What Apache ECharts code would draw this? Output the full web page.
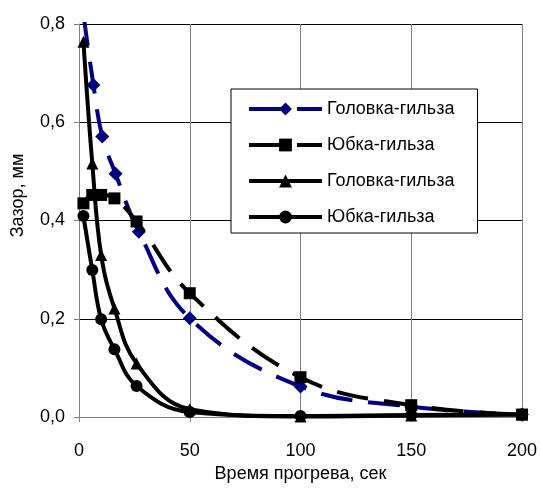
<!DOCTYPE html>
<html>
<head>
<meta charset="utf-8">
<script src="https://cdn.jsdelivr.net/npm/echarts@6/dist/echarts.min.js"></script>
<style>
  html, body { margin: 0; padding: 0; background: #fff; }
  #chart { width: 541px; height: 488px; }
</style>
</head>
<body>
<div id="chart"></div>
<script>
// Time points, sec
const timeHead = [2, 6.5, 10.5, 16.5, 27, 50, 100, 150, 200];
const timeBlack = [2, 6, 10, 16, 26, 50, 100, 150, 200];

// Gap values, mm
const headDashed = [0.82, 0.676, 0.571, 0.495, 0.377, 0.201, 0.062, 0.021, 0.005];
const skirtDashed = [0.435, 0.452, 0.452, 0.445, 0.398, 0.252, 0.081, 0.024, 0.005];
const headSolid = [0.764, 0.516, 0.33, 0.221, 0.109, 0.016, 0.001, 0.003, 0.005];
const skirtSolid = [0.409, 0.299, 0.199, 0.138, 0.063, 0.01, 0.002, 0.004, 0.005];

const seriesNames = ["Головка-гильза", "Юбка-гильза", "Головка-гильза ", "Юбка-гильза "];

function pairs(xs, ys) {
  return xs.map((x, i) => [x, ys[i]]);
}

const chartDom = document.getElementById("chart");
const myChart = echarts.init(chartDom);

const font = "Liberation Sans";

const option = {
  animation: false,
  textStyle: { fontFamily: font },
  grid: { left: 79, right: 19, top: 24, bottom: 71 },
  legend: {
    orient: "vertical",
    left: 231,
    top: 89,
    padding: [11, 23, 7, 16],
    itemGap: 18,
    itemWidth: 73,
    itemHeight: 16,
    borderColor: "#000",
    borderWidth: 1,
    backgroundColor: "#fff",
    lineStyle: { width: 4 },
    textStyle: { fontSize: 18, color: "#000", fontFamily: font },
    formatter: (name) => name.trim(),
    data: seriesNames,
  },
  xAxis: {
    type: "value",
    min: 0,
    max: 200,
    interval: 50,
    name: "Время прогрева, сек",
    nameLocation: "middle",
    nameGap: 47,
    nameTextStyle: { fontSize: 18, color: "#000", fontFamily: font },
    axisLine: { lineStyle: { color: "#808080", width: 1 } },
    axisTick: { show: true, length: 5, lineStyle: { color: "#808080" } },
    axisLabel: { fontSize: 18, color: "#000", margin: 25 },
    splitLine: { show: true, lineStyle: { color: "#808080", width: 1 } },
  },
  yAxis: {
    type: "value",
    min: 0,
    max: 0.8,
    interval: 0.2,
    name: "Зазор, мм",
    nameLocation: "middle",
    nameGap: 52,
    nameTextStyle: { fontSize: 18, color: "#000", fontFamily: font, padding: [0, 0, 0, 50] },
    axisLine: { show: true, lineStyle: { color: "#808080", width: 1 } },
    axisTick: { show: true, length: 5, lineStyle: { color: "#808080" } },
    axisLabel: {
      fontSize: 18,
      color: "#000",
      margin: 14,
      formatter: (v) => v.toFixed(1).replace(".", ","),
    },
    splitLine: { show: true, lineStyle: { color: "#000", width: 1 } },
  },
  series: [
    {
      name: seriesNames[0],
      type: "line",
      data: pairs(timeHead, headDashed),
      smooth: 0.4,
      symbol: "diamond",
      symbolSize: 14,
      itemStyle: { color: "#000080" },
      lineStyle: { color: "#000080", width: 4, type: [32, 16] },
      z: 2,
    },
    {
      name: seriesNames[1],
      type: "line",
      data: pairs(timeBlack, skirtDashed),
      smooth: 0.4,
      symbol: "rect",
      symbolSize: 12,
      itemStyle: { color: "#000" },
      lineStyle: { color: "#000", width: 4, type: [32, 16] },
      z: 3,
    },
    {
      name: seriesNames[2],
      type: "line",
      data: pairs(timeBlack, headSolid),
      smooth: 0.4,
      symbol: "triangle",
      symbolSize: 12,
      itemStyle: { color: "#000" },
      lineStyle: { color: "#000", width: 4 },
      z: 4,
    },
    {
      name: seriesNames[3],
      type: "line",
      data: pairs(timeBlack, skirtSolid),
      smooth: 0.4,
      symbol: "circle",
      symbolSize: 12,
      itemStyle: { color: "#000" },
      lineStyle: { color: "#000", width: 4 },
      z: 5,
    },
  ],
};

myChart.setOption(option);
</script>
</body>
</html>
